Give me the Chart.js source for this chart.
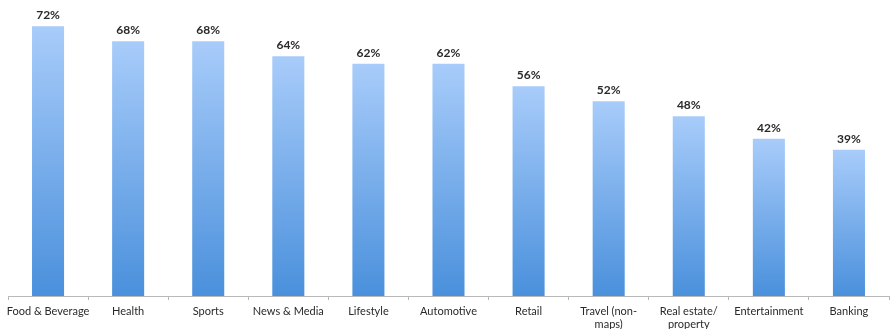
<!DOCTYPE html>
<html>
<head>
<meta charset="utf-8">
<script src="https://cdn.jsdelivr.net/npm/chart.js@4/dist/chart.umd.min.js"></script>
<style>
  html,body{margin:0;padding:0;background:#fff;}
  #wrap{width:893px;height:329px;position:relative;}
</style>
</head>
<body>
<div id="wrap"><canvas id="chart"></canvas></div>
<script>
// data
const categories = ['Food & Beverage','Health','Sports','News & Media','Lifestyle','Automotive','Retail',
  ['Travel (non-','maps)'],['Real estate/','property'],'Entertainment','Banking'];
const values = [72, 68, 68, 64, 62, 62, 56, 52, 48, 42, 39];

const FONT = 'Lato, "Open Sans", sans-serif';

// per-bar vertical gradient, light at top, darker at bottom
function barFill(ctx) {
  const chart = ctx.chart;
  const y = chart.scales.y;
  if (!y || ctx.parsed === undefined) return '#7fb0ec';
  const top = y.getPixelForValue(ctx.parsed.y);
  const bot = y.getPixelForValue(0);
  if (!isFinite(top) || !isFinite(bot) || top === bot) return '#7fb0ec';
  const g = chart.ctx.createLinearGradient(0, top, 0, bot);
  g.addColorStop(0, '#a8ccfa');
  g.addColorStop(1, '#4a90dc');
  return g;
}

const valueLabels = {
  id: 'valueLabels',
  afterDatasetsDraw(chart) {
    const c = chart.ctx;
    const meta = chart.getDatasetMeta(0);
    c.save();
    c.font = 'bold 12px ' + FONT;
    c.fillStyle = '#2a2a2a';
    c.textAlign = 'center';
    c.textBaseline = 'bottom';
    meta.data.forEach((bar, i) => {
      c.fillText(values[i] + '%', bar.x, bar.y - 5);
    });
    c.restore();
  }
};

new Chart(document.getElementById('chart'), {
  type: 'bar',
  data: {
    labels: categories,
    datasets: [{
      data: values,
      backgroundColor: barFill,
      borderWidth: 0,
      categoryPercentage: 1,
      barPercentage: 0.4
    }]
  },
  options: {
    responsive: true,
    maintainAspectRatio: false,
    animation: false,
    layout: { padding: { left: 8, right: 4, top: 0, bottom: 0 } },
    plugins: { legend: { display: false }, tooltip: { enabled: false } },
    scales: {
      y: { display: false, min: 0, max: 79 },
      x: {
        offset: true,
        border: { display: true, color: '#b8b8b8', width: 1 },
        grid: { offset: true, drawOnChartArea: false, drawTicks: true, tickLength: 4, color: '#b8b8b8' },
        ticks: {
          color: '#2a2a2a',
          font: { family: FONT, size: 11 },
          padding: 5,
          maxRotation: 0,
          autoSkip: false
        },
        afterFit(scale) { scale.height = 33; }
      }
    }
  },
  plugins: [valueLabels]
});
</script>
</body>
</html>
